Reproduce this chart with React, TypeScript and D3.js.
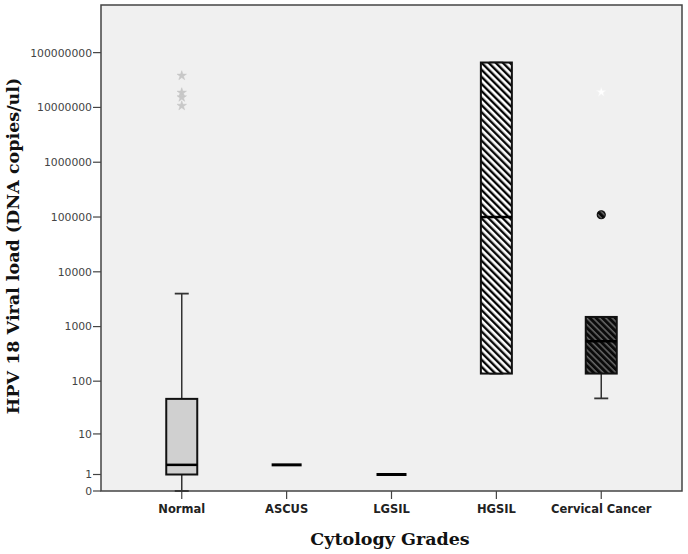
import React from "react";
import * as d3 from "d3";

const categories = ["Normal", "ASCUS", "LGSIL", "HGSIL", "Cervical Cancer"];
const mins = [0, 2, 1, 138, 48];
const q1s = [1, 2, 1, 138, 138];
const medians = [2, 2, 1, 100000, 540];
const q3s = [47, 2, 1, 66000000, 1500];
const maxs = [4000, 2, 1, 66000000, 1500];
const boxStyles = ["gray", "none", "none", "hatchWhite", "hatchDark"];
const extremeValues = [
  { cat: "Normal", value: 38000000, color: "#c8c8c8" },
  { cat: "Normal", value: 18600000, color: "#c8c8c8" },
  { cat: "Normal", value: 15300000, color: "#c8c8c8" },
  { cat: "Normal", value: 10700000, color: "#c8c8c8" },
  { cat: "Cervical Cancer", value: 19000000, color: "#ffffff" },
];
const outlierValues = [{ cat: "Cervical Cancer", value: 110000 }];
const yTicks = [0, 1, 10, 100, 1000, 10000, 100000, 1000000, 10000000, 100000000];

const W = 688;
const H = 554;
const plotLeft = 101;
const plotRight = 682;
const plotTop = 5;
const plotBottom = 491;

export default function App() {
  const y = d3.scaleSymlog().constant(1).domain([0, 7.4e8]).range([plotBottom, plotTop]);
  const x = d3.scalePoint<string>().domain(categories).range([plotLeft, plotRight]).padding(0.77);
  const boxW = 31;
  const capW = 14;
  const star = d3.symbol().type(d3.symbolStar).size(28)() as string;

  return (
    <svg width={W} height={H} style={{ position: "absolute", left: 0, top: 0, background: "#fff" }}>
      <defs>
        <pattern id="hatchWhite" width="5" height="5" patternUnits="userSpaceOnUse" patternTransform="rotate(-45)">
          <rect width="5" height="5" fill="#ffffff" />
          <line x1="1.2" y1="0" x2="1.2" y2="5" stroke="#000" strokeWidth="2.3" />
        </pattern>
        <pattern id="hatchDark" width="4.5" height="4.5" patternUnits="userSpaceOnUse" patternTransform="rotate(-45)">
          <rect width="4.5" height="4.5" fill="#0a0a0a" />
          <line x1="1" y1="0" x2="1" y2="4.5" stroke="#8a8a8a" strokeWidth="1.1" />
        </pattern>
      </defs>
      <rect x={plotLeft} y={plotTop} width={plotRight - plotLeft} height={plotBottom - plotTop} fill="#f0f0f0" stroke="#444" strokeWidth={1.5} />

      {yTicks.map((t) => (
        <g key={t} transform={`translate(0,${y(t)})`}>
          <line x1={plotLeft - 8} x2={plotLeft} stroke="#444" strokeWidth={1.2} />
          <text x={plotLeft - 9} dy="0.36em" textAnchor="end" fontFamily="DejaVu Sans" fontSize={10.8} fill="#444">
            {String(t)}
          </text>
        </g>
      ))}

      {categories.map((c) => (
        <g key={c} transform={`translate(${x(c)},0)`}>
          <line y1={plotBottom} y2={plotBottom + 8} stroke="#444" strokeWidth={1.2} />
          <text y={513} textAnchor="middle" fontFamily="DejaVu Sans" fontWeight="bold" fontSize={11.5} fill="#222">
            {c}
          </text>
        </g>
      ))}

      {categories.map((c, i) => {
        const cx = x(c) as number;
        const style = boxStyles[i];
        if (style === "none") {
          return (
            <line key={c} x1={cx - 15} x2={cx + 15} y1={y(medians[i])} y2={y(medians[i])} stroke="#000" strokeWidth={3} />
          );
        }
        const fill = style === "gray" ? "#d0d0d0" : `url(#${style})`;
        return (
          <g key={c}>
            <line x1={cx} x2={cx} y1={y(q3s[i])} y2={y(maxs[i])} stroke="#333" strokeWidth={1.5} />
            <line x1={cx} x2={cx} y1={y(q1s[i])} y2={y(mins[i])} stroke="#333" strokeWidth={1.5} />
            <line x1={cx - capW / 2} x2={cx + capW / 2} y1={y(maxs[i])} y2={y(maxs[i])} stroke="#333" strokeWidth={1.8} />
            <line x1={cx - capW / 2} x2={cx + capW / 2} y1={y(mins[i])} y2={y(mins[i])} stroke="#333" strokeWidth={1.8} />
            <rect x={cx - boxW / 2} y={y(q3s[i])} width={boxW} height={y(q1s[i]) - y(q3s[i])} fill={fill} stroke="#111" strokeWidth={2} />
            <line x1={cx - boxW / 2} x2={cx + boxW / 2} y1={y(medians[i])} y2={y(medians[i])} stroke="#000" strokeWidth={2.5} />
          </g>
        );
      })}

      {outlierValues.map((o, i) => (
        <circle key={i} cx={x(o.cat)} cy={y(o.value)} r={4} fill="url(#hatchDark)" stroke="#111" strokeWidth={1.2} />
      ))}
      {extremeValues.map((e, i) => (
        <path key={i} d={star} transform={`translate(${x(e.cat)},${y(e.value)})`} fill={e.color} stroke={e.color === "#ffffff" ? "#f4f4f4" : "#c4c4c4"} strokeWidth={0.5} />
      ))}

      <text x={390} y={545} textAnchor="middle" fontFamily="DejaVu Serif" fontWeight="bold" fontSize={17.5} fill="#111">
        Cytology Grades
      </text>
      <text transform="translate(18.5,246) rotate(-90)" textAnchor="middle" fontFamily="DejaVu Serif" fontWeight="bold" fontSize={17.5} fill="#111">
        HPV 18 Viral load (DNA copies/ul)
      </text>
    </svg>
  );
}
